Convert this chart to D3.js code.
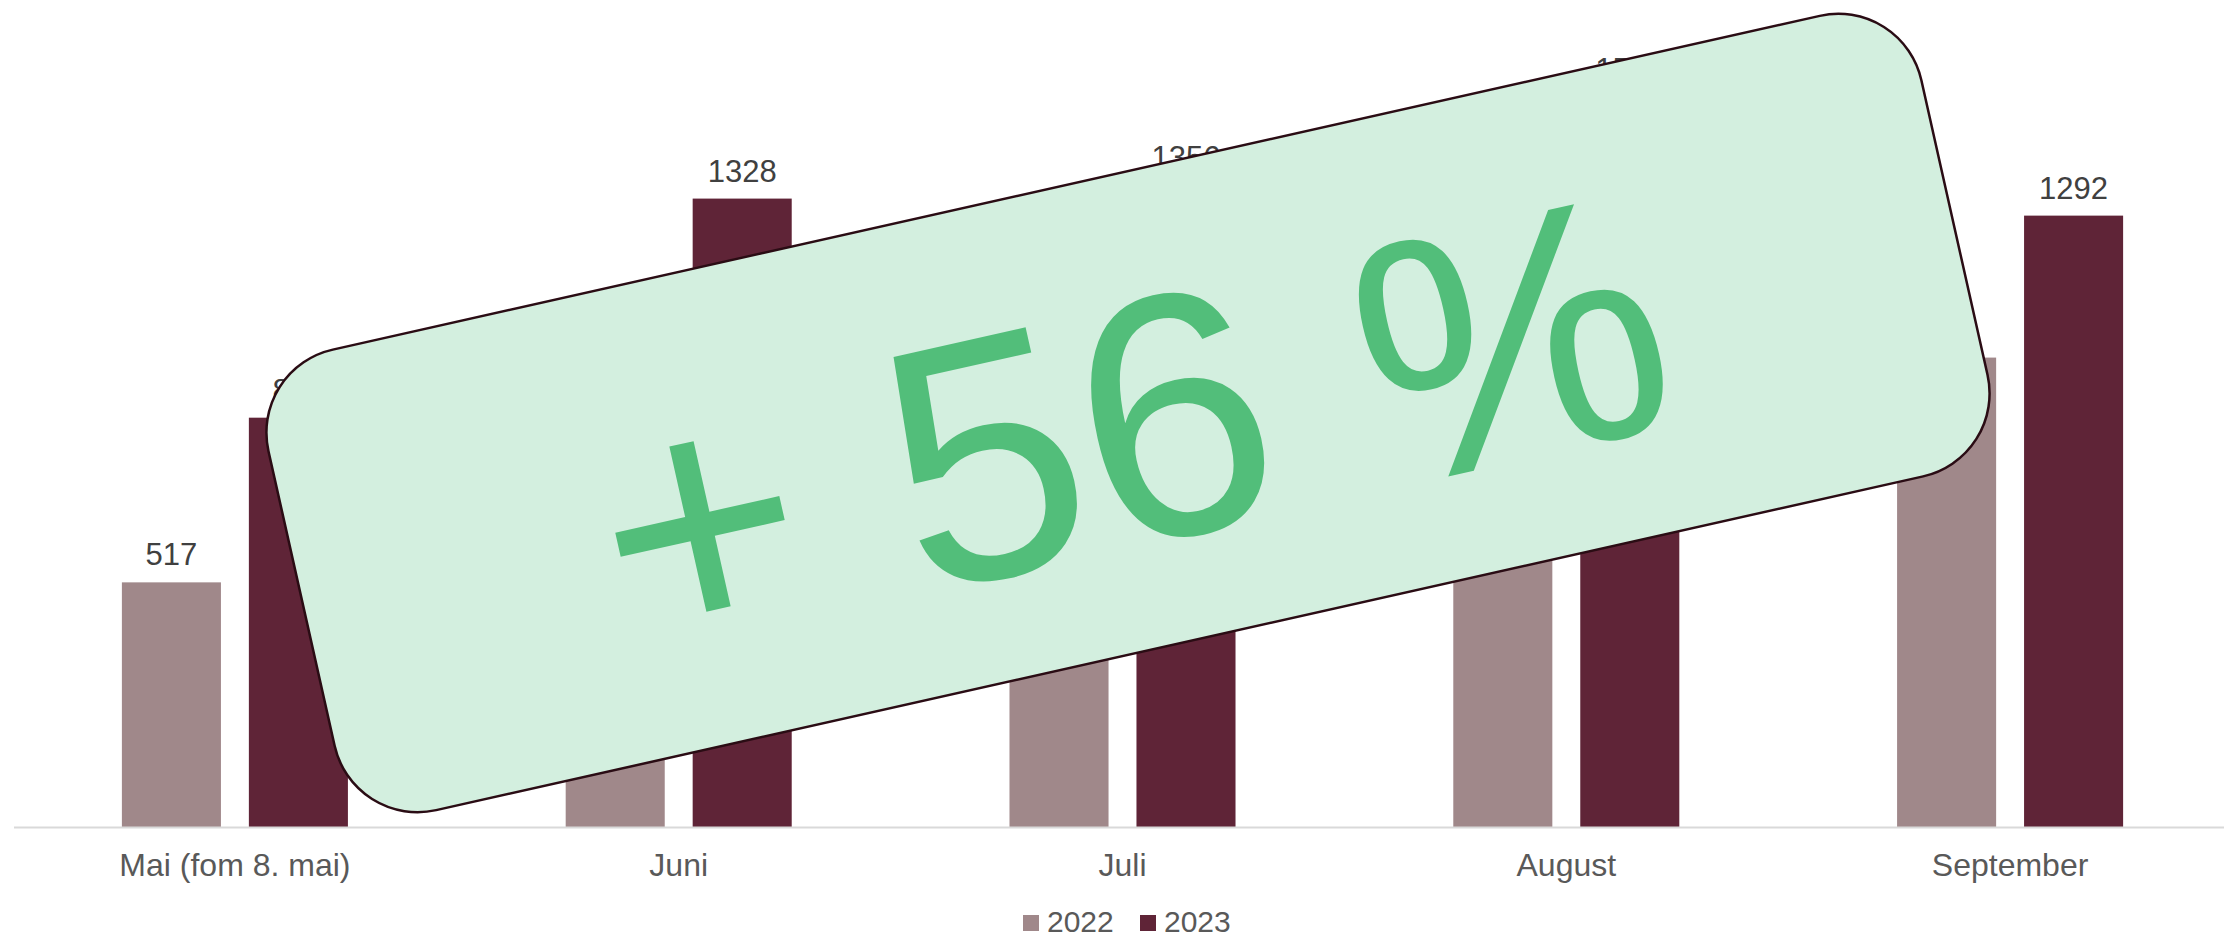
<!DOCTYPE html>
<html>
<head>
<meta charset="utf-8">
<script src="https://cdn.jsdelivr.net/npm/d3@7"></script>
<style>
  body { margin: 0; background: #fff; }
  text { font-family: "Liberation Sans", Arial, sans-serif; }
</style>
</head>
<body>
<svg width="2224" height="940"></svg>
<script>
// months (x categories)
var months = ["Mai (fom 8. mai)", "Juni", "Juli", "August", "September"];
var years = ["2022", "2023"];
// values per month, hidden ones estimated (behind the banner)
var values2022 = [517, 780, 880, 922, 992];
var values2023 = [865, 1328, 1356, 1543, 1292];
var bannerText = "+ 56 %";

var colors = {"2022": "#a0888a", "2023": "#5f2437"};

var svg = d3.select("svg"),
    width = +svg.attr("width"),
    height = +svg.attr("height");

var baseY = 827;

var x0 = d3.scaleBand()
    .domain(months)
    .range([13, 2232])
    .padding(0);

var x1 = d3.scaleBand()
    .domain(years)
    .range([0, x0.bandwidth()])
    .paddingInner(0.22)
    .paddingOuter(0.8575);

var y = d3.scaleLinear()
    .domain([0, 1750])
    .range([baseY, baseY - 1750 * 0.4732]);

var rows = months.map(function(m, i) {
  return {month: m, vals: [
    {year: "2022", value: values2022[i]},
    {year: "2023", value: values2023[i]}
  ]};
});

var groups = svg.append("g").selectAll("g")
  .data(rows)
  .enter().append("g")
    .attr("transform", function(d) { return "translate(" + x0(d.month) + ",0)"; });

groups.selectAll("rect")
  .data(function(d) { return d.vals; })
  .enter().append("rect")
    .attr("x", function(d) { return x1(d.year); })
    .attr("y", function(d) { return y(d.value); })
    .attr("width", x1.bandwidth())
    .attr("height", function(d) { return baseY - y(d.value); })
    .attr("fill", function(d) { return colors[d.year]; });

// value labels
groups.selectAll("text")
  .data(function(d) { return d.vals; })
  .enter().append("text")
    .attr("x", function(d) { return x1(d.year) + x1.bandwidth() / 2; })
    .attr("y", function(d) { return y(d.value) - 17; })
    .attr("text-anchor", "middle")
    .attr("font-size", 31)
    .attr("fill", "#404040")
    .text(function(d) { return d.value; });

// x axis
var xAxis = svg.append("g")
    .attr("transform", "translate(0," + baseY + ")")
    .call(d3.axisBottom(x0).tickSize(0).tickPadding(0));
xAxis.select(".domain").remove();
xAxis.append("line")
    .attr("x1", 14).attr("x2", width)
    .attr("y1", 0.5).attr("y2", 0.5)
    .attr("stroke", "#d9d9d9")
    .attr("stroke-width", 2);
xAxis.selectAll(".tick text")
    .attr("y", 49)
    .attr("dy", 0)
    .attr("font-size", 32)
    .attr("font-family", "'Liberation Sans', Arial, sans-serif")
    .attr("fill", "#595959");

// legend
var legend = svg.append("g").selectAll("g")
  .data(years)
  .enter().append("g")
    .attr("transform", function(d, i) { return "translate(" + (1023 + i * 117) + ",915)"; });
legend.append("rect")
    .attr("width", 16).attr("height", 16)
    .attr("fill", function(d) { return colors[d]; });
legend.append("text")
    .attr("x", 24).attr("y", 17)
    .attr("font-size", 30)
    .attr("fill", "#595959")
    .text(function(d) { return d; });

// rotated banner
var banner = svg.append("g")
    .attr("transform", "translate(1128,413) rotate(-12.65)");
banner.append("rect")
    .attr("x", -847).attr("y", -236)
    .attr("width", 1694).attr("height", 472)
    .attr("rx", 85).attr("ry", 85)
    .attr("fill", "#d3efdf")
    .attr("stroke", "#2a0c14")
    .attr("stroke-width", 2.5);
banner.append("text")
    .attr("x", 0).attr("y", 132)
    .attr("text-anchor", "middle")
    .attr("font-size", 346)
    .attr("fill", "#52be7a")
    .text(bannerText);
</script>
</body>
</html>
